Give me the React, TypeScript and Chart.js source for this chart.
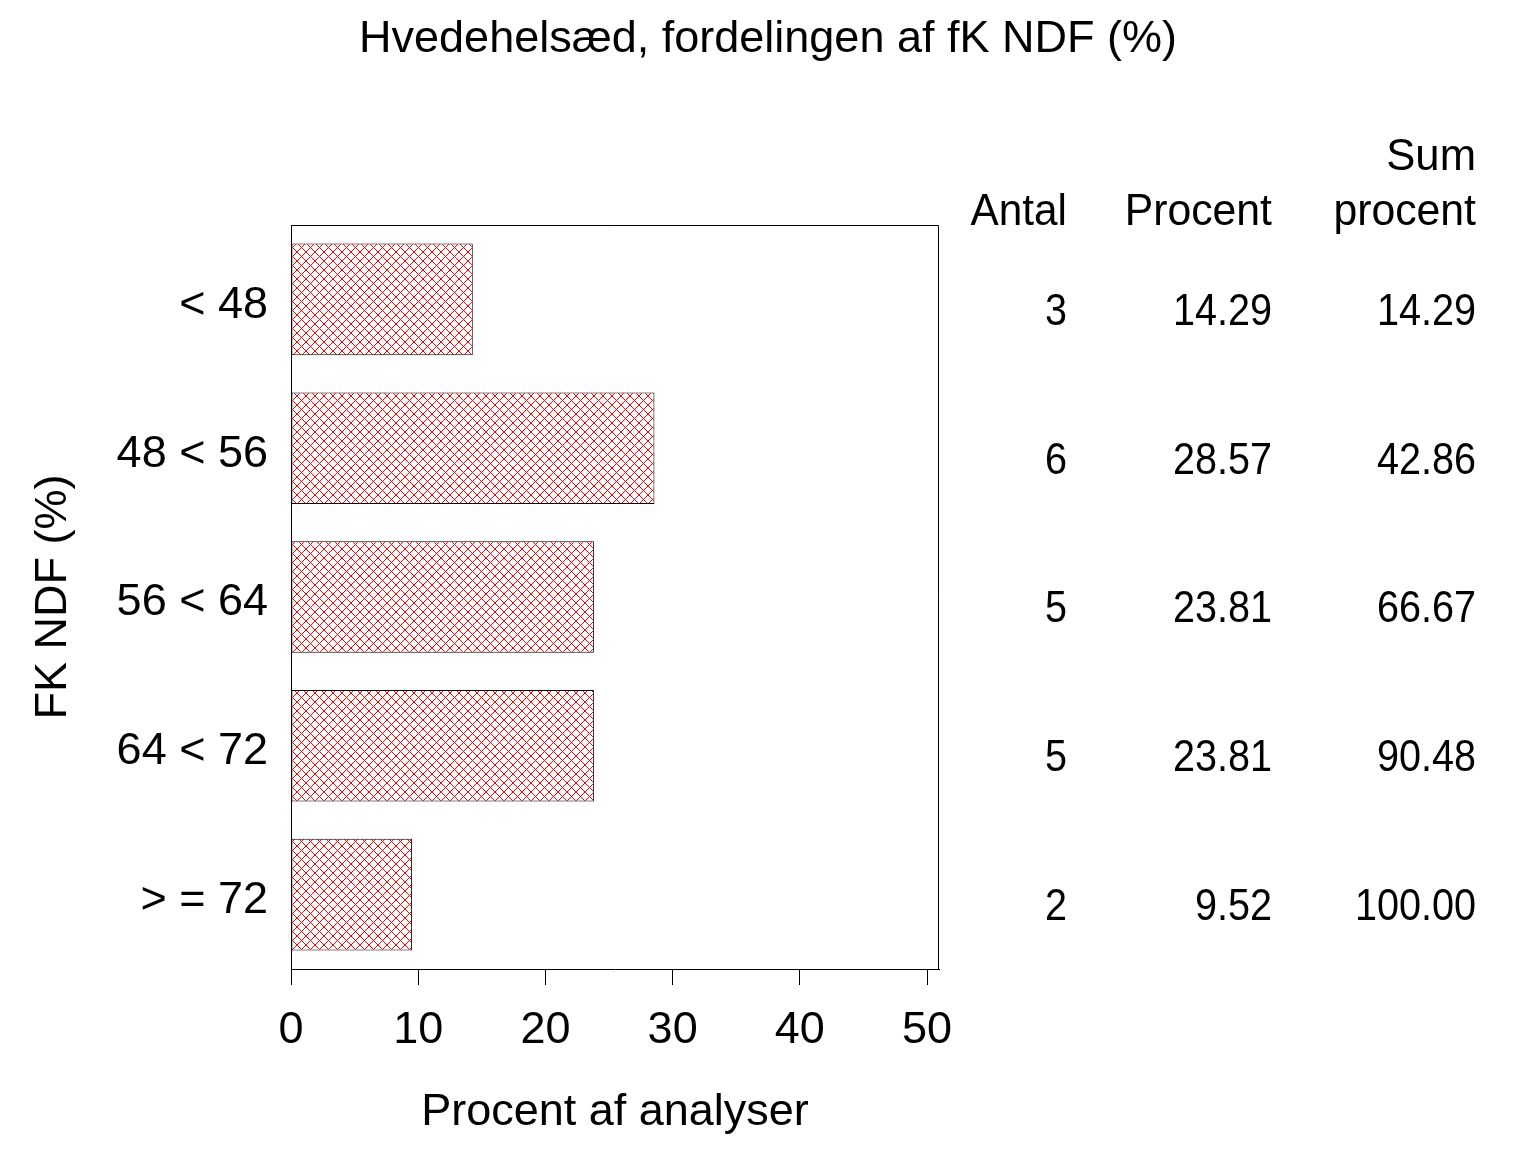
import React, { useEffect, useRef } from "react";
import { Chart, registerables } from "chart.js";

Chart.register(...registerables);

// ---- data ----
const categories = ["< 48", "48 < 56", "56 < 64", "64 < 72", "> = 72"];
const antal = [3, 6, 5, 5, 2];
const procent = [14.29, 28.57, 23.81, 23.81, 9.52];
const sumProcent = [14.29, 42.86, 66.67, 90.48, 100.0];
const xTickValues = [0, 10, 20, 30, 40, 50];

const titleText = "Hvedehelsæd, fordelingen af fK NDF (%)";
const xTitle = "Procent af analyser";
const yTitle = "FK NDF (%)";
const headAntal = "Antal";
const headProcent = "Procent";
const headSum1 = "Sum";
const headSum2 = "procent";

const FONT = '"Liberation Sans", Arial, sans-serif';
const FS = 45;

function makePattern(): CanvasPattern | string {
  const c = document.createElement("canvas");
  const n = 9;
  c.width = n;
  c.height = n;
  const g = c.getContext("2d");
  if (!g) return "#ff0000";
  g.fillStyle = "#ffffff";
  g.fillRect(0, 0, n, n);
  g.fillStyle = "#ff0000";
  for (let i = 0; i < n; i++) {
    g.fillRect(i, i, 1, 1);
    g.fillRect(n - 1 - i, i, 1, 1);
  }
  const p = g.createPattern(c, "repeat");
  return p || "#ff0000";
}

function drawText(ctx: CanvasRenderingContext2D, s: string, x: number, y: number, sx: number) {
  ctx.save();
  ctx.translate(x, y);
  ctx.scale(sx, 1);
  ctx.fillText(s, 0, 0);
  ctx.restore();
}

const tablePlugin = {
  id: "freqTable",
  afterDraw(chart: any) {
    const ctx = chart.ctx as CanvasRenderingContext2D;
    const ys = chart.scales.y;
    const a = chart.chartArea;
    ctx.save();
    // frame top and right
    ctx.strokeStyle = "#000";
    ctx.lineWidth = 1;
    ctx.beginPath();
    const t = Math.round(a.top) + 0.5;
    const r = Math.round(a.right) - 0.5;
    ctx.moveTo(Math.round(a.left), t);
    ctx.lineTo(r, t);
    ctx.lineTo(r, Math.round(a.bottom));
    ctx.stroke();

    ctx.font = `${FS}px ${FONT}`;
    ctx.fillStyle = "#000";
    ctx.textAlign = "right";
    ctx.textBaseline = "middle";
    const colX = [1067, 1272, 1476];
    drawText(ctx, headAntal, colX[0], 213, 0.94);
    drawText(ctx, headProcent, colX[1], 213, 0.95);
    drawText(ctx, headSum1, colX[2], 158, 0.97);
    drawText(ctx, headSum2, colX[2], 213, 0.95);
    categories.forEach((_, i) => {
      const py = ys.getPixelForValue(i) + 13;
      drawText(ctx, String(antal[i]), colX[0], py, 0.88);
      drawText(ctx, procent[i].toFixed(2), colX[1], py, 0.88);
      drawText(ctx, sumProcent[i].toFixed(2), colX[2], py, 0.88);
    });
    ctx.restore();
  },
};

export default function App() {
  const ref = useRef<HTMLCanvasElement | null>(null);

  useEffect(() => {
    document.body.style.margin = "0";
    const canvas = ref.current;
    if (!canvas) return;
    const pattern = makePattern();
    const font = { family: FONT, size: FS, weight: "normal" as const };
    const chart = new Chart(canvas, {
      type: "bar",
      data: {
        labels: categories,
        datasets: [
          {
            data: procent,
            backgroundColor: pattern as any,
            borderColor: "#000000",
            borderWidth: 1,
            borderSkipped: false,
            categoryPercentage: 1,
            barPercentage: 0.75,
          },
        ],
      },
      options: {
        indexAxis: "y",
        animation: false,
        responsive: false,
        devicePixelRatio: 1,
        layout: { padding: 0 },
        plugins: {
          legend: { display: false },
          tooltip: { enabled: false },
          title: {
            display: true,
            text: titleText,
            color: "#000",
            font,
            padding: { top: 13, bottom: 158 },
          },
        },
        scales: {
          x: {
            type: "linear",
            min: 0,
            max: 50.94,
            afterBuildTicks: (scale: any) => {
              scale.ticks = xTickValues.map((v) => ({ value: v }));
            },
            afterFit: (scale: any) => {
              scale.height = 183;
            },
            ticks: {
              color: "#000",
              font,
              padding: 19,
              maxRotation: 0,
              autoSkip: false,
            },
            grid: {
              drawOnChartArea: false,
              drawTicks: true,
              tickLength: 16,
              color: "#000",
              lineWidth: 1,
            },
            border: { display: true, color: "#000", width: 1 },
            title: {
              display: true,
              text: xTitle,
              color: "#000",
              font,
              padding: { top: 0, bottom: 12 },
            },
          },
          y: {
            type: "category",
            afterFit: (scale: any) => {
              scale.width = 291;
            },
            ticks: { color: "#000", font, padding: 23, autoSkip: false, labelOffset: 6 },
            grid: { drawOnChartArea: false, drawTicks: false },
            border: { display: true, color: "#000", width: 1 },
            title: {
              display: true,
              text: yTitle,
              color: "#000",
              font,
              padding: { top: 27, bottom: 0 },
            },
          },
          yRight: {
            type: "category",
            position: "right",
            display: true,
            afterFit: (scale: any) => {
              scale.width = 597;
            },
            ticks: { display: false },
            grid: { display: false, drawTicks: false },
            border: { display: false },
          },
        },
      },
      plugins: [tablePlugin],
    });
    return () => chart.destroy();
  }, []);

  return (
    <div style={{ width: 1536, height: 1152, background: "#fff" }}>
      <canvas ref={ref} width={1536} height={1152} style={{ display: "block" }} />
    </div>
  );
}
